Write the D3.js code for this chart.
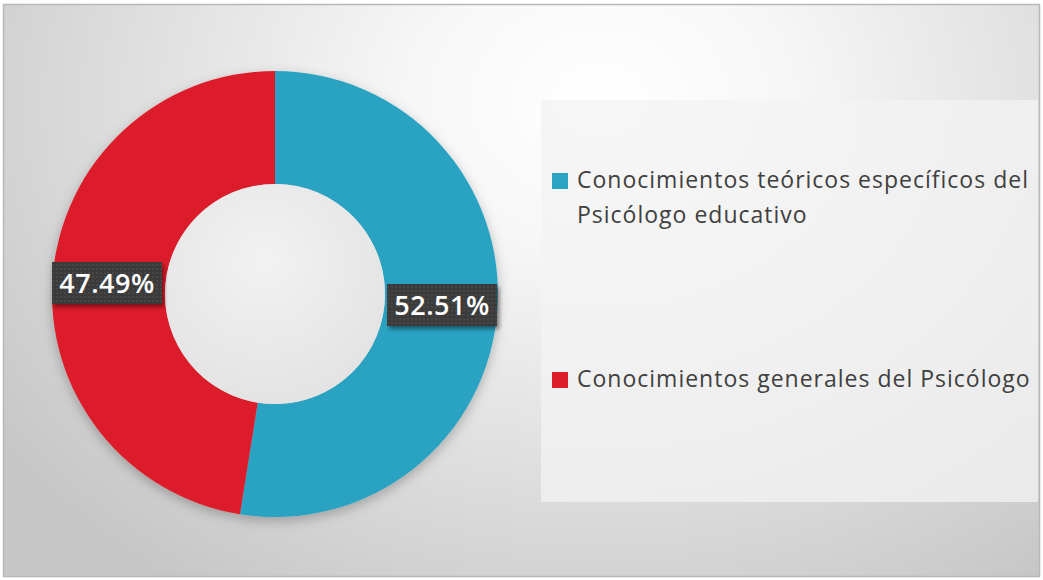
<!DOCTYPE html>
<html><head><meta charset="utf-8">
<script src="https://cdn.jsdelivr.net/npm/d3@7"></script>
<style>html,body{margin:0;padding:0;background:#fff;}svg{display:block;}</style>
</head><body>
<script>
const categories = ["Conocimientos teóricos específicos del Psicólogo educativo", "Conocimientos generales del Psicólogo"];
const legendLines = [["Conocimientos teóricos específicos del", "Psicólogo educativo"], ["Conocimientos generales del Psicólogo"]];
const values = [52.51, 47.49];
const labels = ["52.51%", "47.49%"];
const colors = ["#2ca3c2", "#dc1e29"];

const W = 1043, H = 580;
const svg = d3.select("body").append("svg").attr("width", W).attr("height", H);
const defs = svg.append("defs");

const bg = defs.append("radialGradient").attr("id","bg")
  .attr("gradientUnits","userSpaceOnUse").attr("cx",600).attr("cy",100).attr("r",740)
  .attr("gradientTransform","translate(600,100) scale(1,0.8) translate(-600,-100)");
bg.append("stop").attr("offset",0).attr("stop-color","#ffffff");
bg.append("stop").attr("offset",0.25).attr("stop-color","#f7f7f7");
bg.append("stop").attr("offset",0.7).attr("stop-color","#dadada");
bg.append("stop").attr("offset",1).attr("stop-color","#c6c6c6");

const hole = defs.append("radialGradient").attr("id","hole").attr("cx","0.45").attr("cy","0.35").attr("r","0.7");
hole.append("stop").attr("offset",0).attr("stop-color","#f2f2f2");
hole.append("stop").attr("offset",1).attr("stop-color","#e2e2e2");

const sh = defs.append("filter").attr("id","sh").attr("x","-20%").attr("y","-20%").attr("width","140%").attr("height","150%");
sh.append("feDropShadow").attr("dx",0).attr("dy",4).attr("stdDeviation",6).attr("flood-color","#000").attr("flood-opacity",0.25);

const lsh = defs.append("filter").attr("id","lsh").attr("x","-20%").attr("y","-30%").attr("width","140%").attr("height","180%");
lsh.append("feDropShadow").attr("dx",2).attr("dy",3).attr("stdDeviation",2).attr("flood-color","#000").attr("flood-opacity",0.45);

const pat = defs.append("pattern").attr("id","dots").attr("width",4).attr("height",4).attr("patternUnits","userSpaceOnUse");
pat.append("rect").attr("width",4).attr("height",4).attr("fill","#3a3a3a");
pat.append("circle").attr("cx",2).attr("cy",2).attr("r",0.9).attr("fill","#4c4c4c");

svg.append("rect").attr("x",3.5).attr("y",4.5).attr("width",1036).attr("height",572)
  .attr("fill","url(#bg)").attr("stroke","#b8b8b8").attr("stroke-width",1.5);

// Legend panel
svg.append("rect").attr("x",541).attr("y",100).attr("width",497).attr("height",402)
  .attr("fill","#f3f3f3").attr("fill-opacity",0.75);

const cx = 275, cy = 294, rOut = 223, rIn = 110;
const pie = d3.pie().sort(null).value(d => d);
const arcs = pie(values);
const arc = d3.arc().innerRadius(rIn).outerRadius(rOut);

const g = svg.append("g").attr("transform", `translate(${cx},${cy})`);
g.append("g").attr("filter","url(#sh)").selectAll("path").data(arcs).join("path")
  .attr("d", arc).attr("fill", (d,i) => colors[i]);
g.append("circle").attr("r", rIn).attr("fill","url(#hole)");

// Data labels
const labelPos = [{x: 442, y: 305}, {x: 107, y: 283}];
arcs.forEach((a,i) => {
  const p = labelPos[i];
  const grp = svg.append("g").attr("transform",`translate(${p.x},${p.y})`);
  grp.append("rect").attr("x",-55).attr("y",-21).attr("width",110).attr("height",42)
    .attr("fill","url(#dots)").attr("filter","url(#lsh)");
  grp.append("text").attr("text-anchor","middle").attr("dy","0.36em")
    .attr("font-family","'Open Sans', sans-serif").attr("font-size",27).attr("font-weight",600)
    .attr("letter-spacing",0.5).attr("fill","#fff")
    .text(labels[i]);
});

// Legend
const legendY = [188, 387];
const leg = svg.append("g");
categories.forEach((c,i) => {
  leg.append("rect").attr("x",552).attr("y",legendY[i]-15).attr("width",16).attr("height",16).attr("fill",colors[i]);
  legendLines[i].forEach((ln,j) => {
    leg.append("text").attr("x",577).attr("y",legendY[i] + j*35)
      .attr("font-family","'Open Sans', sans-serif").attr("font-size",23).attr("letter-spacing",1)
      .attr("fill","#404040")
      .text(ln);
  });
});
</script>
</body></html>
